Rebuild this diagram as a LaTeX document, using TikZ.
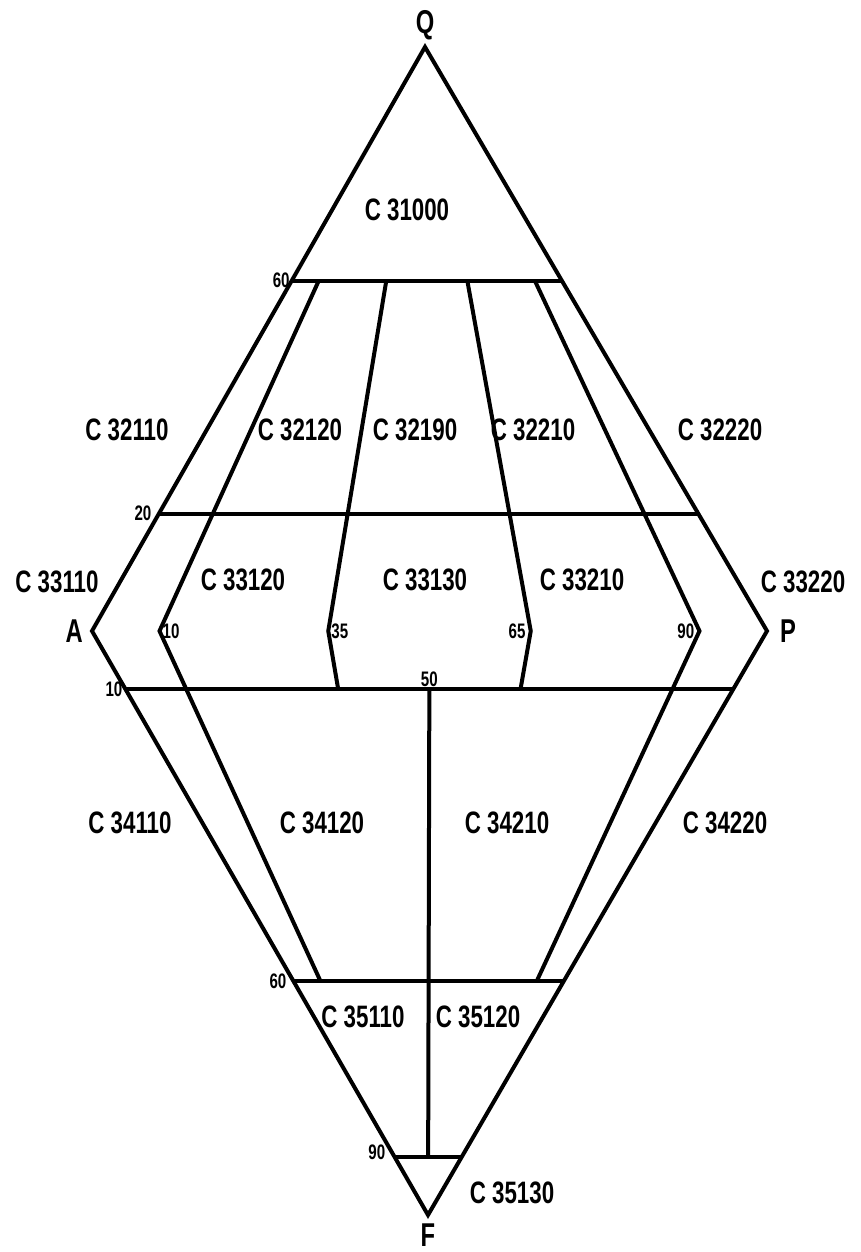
\documentclass[tikz,border=0pt]{standalone}
\usepackage{fontspec}
\newfontfamily\labfont{Liberation Sans}[FakeStretch=0.72]
\usetikzlibrary{calc}

\tikzset{
    field/.style={font=\labfont\bfseries\fontsize{31}{33}\selectfont,inner sep=1pt},
    tick/.style={font=\labfont\bfseries\fontsize{21}{22}\selectfont,inner sep=1pt},
    corner/.style={font=\labfont\bfseries\fontsize{33}{35}\selectfont,inner sep=1pt},
    edge/.style={line width=4pt,line join=miter},
}

\begin{document}
\begin{tikzpicture}[x=1pt,y=-1pt]
    \useasboundingbox (0,0) rectangle (860,1252);
    % corners
    \coordinate (Q) at (425,47);
    \coordinate (A) at (92,631);
    \coordinate (P) at (767,631);
    \coordinate (F) at (428,1215);
    % points on A--P
    \foreach \f in {10,35,50,65,90}{
        \coordinate (a\f) at ($(A)!0.\f!(P)$);
    }
    % ends of the cross lines
    \coordinate (q60l) at ($(A)!0.6!(Q)$);
    \coordinate (q60r) at ($(P)!0.6!(Q)$);
    \coordinate (q20l) at ($(A)!0.2!(Q)$);
    \coordinate (q20r) at ($(P)!0.2!(Q)$);
    \coordinate (f10l) at ($(A)!0.1!(F)$);
    \coordinate (f10r) at ($(P)!0.1!(F)$);
    \coordinate (f60l) at ($(A)!0.6!(F)$);
    \coordinate (f60r) at ($(P)!0.6!(F)$);
    \coordinate (f90l) at ($(A)!0.9!(F)$);
    \coordinate (f90r) at ($(P)!0.9!(F)$);
    % ends of the inner lines
    \foreach \f in {10,35,65,90}{
        \coordinate (t\f) at ($(a\f)!0.6!(Q)$);
    }
    \coordinate (b10) at ($(a10)!0.6!(F)$);
    \coordinate (b90) at ($(a90)!0.6!(F)$);
    \coordinate (b35) at ($(a35)!0.1!(F)$);
    \coordinate (b65) at ($(a65)!0.1!(F)$);
    \coordinate (m10) at ($(a50)!0.1!(F)$);
    \coordinate (m90) at ($(a50)!0.9!(F)$);

    % outline and fields
    \draw[edge] (Q) -- (P) -- (F) -- (A) -- cycle;
    \draw[edge] (q60l) -- (q60r);
    \draw[edge] (q20l) -- (q20r);
    \draw[edge] (f10l) -- (f10r);
    \draw[edge] (f60l) -- (f60r);
    \draw[edge] (f90l) -- (f90r);
    \foreach \f in {10,35,65,90}{
        \draw[edge] (t\f) -- (a\f) -- (b\f);
    }
    \draw[edge] (m10) -- (m90);

    % corner letters
    \node[corner,above=6pt] (lQ) at (Q) {Q};
    \node[corner,left=8pt] (lA) at (A) {A};
    \node[corner,right=12pt] (lP) at (P) {P};
    \node[corner,below=8pt] (lF) at (F) {F};

    % percentages
    \node[tick,left=1pt] (n60) at (q60l) {60};
    \node[tick,left=6pt,yshift=1pt] (n20) at (q20l) {20};
    \node[tick,left=2pt] (n10l) at (f10l) {10};
    \node[tick,right=2pt] (n10) at (a10) {10};
    \node[tick,right=2pt] (n35) at (a35) {35};
    \node[tick,left=4pt] (n65) at (a65) {65};
    \node[tick,left=4pt] (n90) at (a90) {90};
    \node[tick,above=2pt] (n50) at (m10) {50};
    \node[tick,left=6pt] (n60f) at (f60l) {60};
    \node[tick,left=8pt,yshift=4pt] (n90f) at (f90l) {90};

    % field codes
    \foreach \nm/\x/\y in {31000/407/210,
        32110/127/430,32120/300/430,32190/415/430,32210/533/430,32220/720/430,
        33110/57/582,33120/243/580,33130/425/580,33210/582/580,33220/803/582,
        34110/130/823,34120/322/823,34210/507/823,34220/725/823,
        35110/363/1017,35120/478/1017,35130/512/1193}{
        \node[field] (c\nm) at (\x,\y) {C \nm};
    }
\end{tikzpicture}
\end{document}
